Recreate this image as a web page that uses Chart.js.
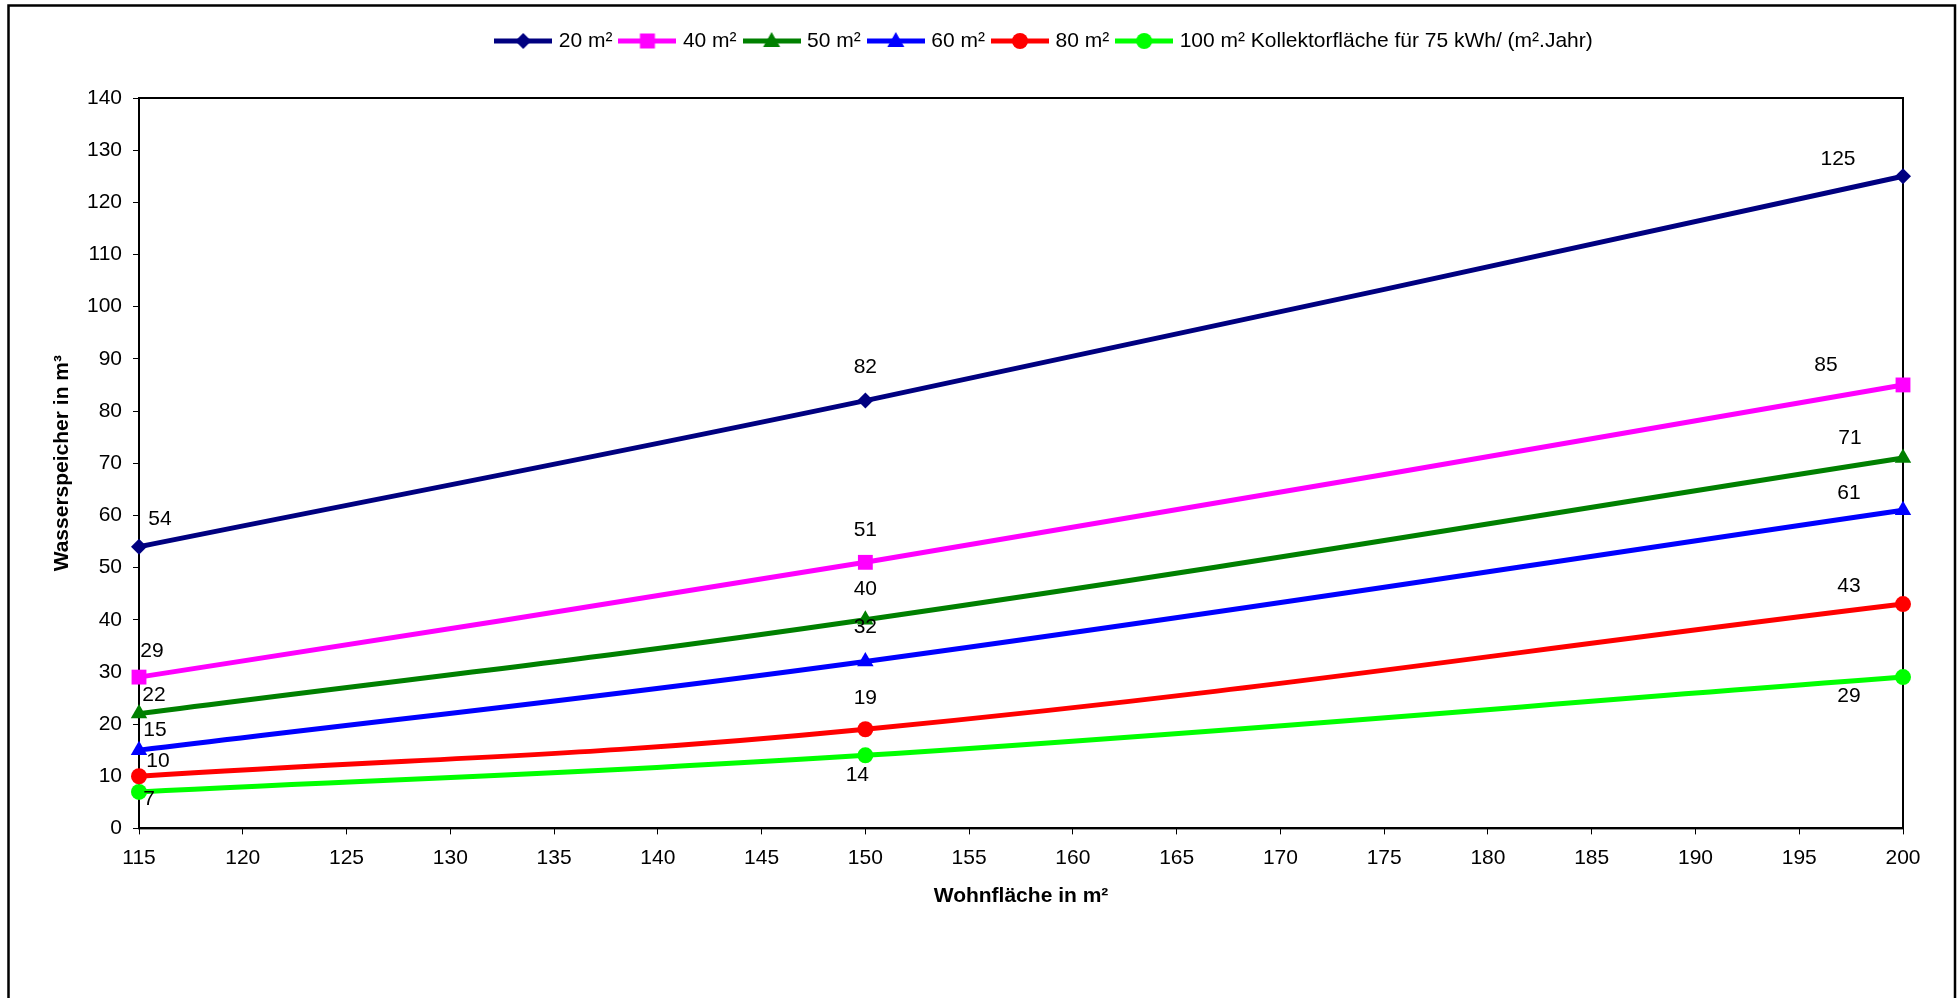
<!DOCTYPE html>
<html>
<head>
<meta charset="utf-8">
<title>Wasserspeicher</title>
<script src="https://cdn.jsdelivr.net/npm/chart.js@4.4.1/dist/chart.umd.min.js"></script>
<style>
  body { margin: 0; background: #fff; }
  canvas { display: block; }
</style>
</head>
<body>
<canvas id="chart-area" width="1959" height="998"></canvas>
<script>
// Werte
var wohnflaeche = [115, 150, 200];
var serienNamen = ['20 m²', '40 m²', '50 m²', '60 m²', '80 m²', '100 m² Kollektorfläche für 75 kWh/ (m².Jahr)'];
var kollektor20 = [54, 82, 125];
var kollektor40 = [29, 51, 85];
var kollektor50 = [22, 40, 71];
var kollektor60 = [15, 32, 61];
var kollektor80 = [10, 19, 43];
var kollektor100 = [7, 14, 29];
var serienWerte = [kollektor20, kollektor40, kollektor50, kollektor60, kollektor80, kollektor100];

// Aussehen
var farben = ['#000080', '#FF00FF', '#008000', '#0000FF', '#FF0000', '#00FF00'];
var punktFormen = ['rectRot', 'rect', 'triangle', 'triangle', 'circle', 'circle'];
var punktGroessen = [8, 10.5, 9.5, 9.5, 8, 8];
// Versatz der Datenbeschriftung (dx, dy) zum Punkt
var labelVersatz = [
    [[21, -27], [0, -33], [-65, -17]],
    [[13, -26], [0, -32], [-77, -20]],
    [[15, -18], [0, -31], [-53, -20]],
    [[16, -20], [0, -34], [-54, -17]],
    [[19, -15], [0, -31], [-54, -18]],
    [[10, 7], [-8, 20], [-54, 19]]
];
var schrift = '"Liberation Sans", Arial, sans-serif';
var groesse = 21;

let makeLegendIcon = function (farbe, form) {
    var c = document.createElement('canvas');
    c.width = 58;
    c.height = 22;
    var g = c.getContext('2d');
    g.strokeStyle = farbe;
    g.fillStyle = farbe;
    g.lineWidth = 5;
    g.beginPath();
    g.moveTo(0, 11);
    g.lineTo(58, 11);
    g.stroke();
    g.beginPath();
    if (form === 'rectRot') {
        g.moveTo(29, 3); g.lineTo(37, 11); g.lineTo(29, 19); g.lineTo(21, 11);
    } else if (form === 'rect') {
        g.rect(21.5, 3.5, 15, 15);
    } else if (form === 'triangle') {
        g.moveTo(29, 2); g.lineTo(37.5, 17); g.lineTo(20.5, 17);
    } else {
        g.arc(29, 11, 8, 0, Math.PI * 2);
    }
    g.closePath();
    g.fill();
    return c;
};

var legendIcons = farben.map((f, i) => makeLegendIcon(f, punktFormen[i]));

var datasets = serienWerte.map(function (werte, i) {
    return {
        label: serienNamen[i],
        data: werte.map((v, j) => ({ x: wohnflaeche[j], y: v })),
        borderColor: farben[i],
        backgroundColor: farben[i],
        borderWidth: 5,
        tension: 0.4,
        pointStyle: punktFormen[i],
        pointRadius: punktGroessen[i],
        pointBorderWidth: 0,
        pointBackgroundColor: farben[i],
        clip: false
    };
});

var rahmen = {
    id: 'rahmen',
    beforeDraw: function (chart) {
        var ctx = chart.ctx;
        ctx.save();
        ctx.fillStyle = '#fff';
        ctx.fillRect(0, 0, chart.width, chart.height);
        ctx.restore();
    },
    beforeDatasetsDraw: function (chart) {
        var a = chart.chartArea;
        var ctx = chart.ctx;
        ctx.save();
        ctx.strokeStyle = '#000';
        ctx.lineWidth = 2;
        ctx.strokeRect(a.left, a.top, a.right - a.left, a.bottom - a.top);
        ctx.restore();
    },
    afterDraw: function (chart) {
        var ctx = chart.ctx;
        ctx.save();
        ctx.strokeStyle = '#000';
        ctx.lineWidth = 2.5;
        ctx.beginPath();
        ctx.moveTo(8.5, chart.height + 5);
        ctx.lineTo(8.5, 5.5);
        ctx.lineTo(1955, 5.5);
        ctx.lineTo(1955, chart.height + 5);
        ctx.stroke();
        ctx.restore();
    }
};

var datenBeschriftung = {
    id: 'datenBeschriftung',
    afterDatasetsDraw: function (chart) {
        var ctx = chart.ctx;
        ctx.save();
        ctx.font = groesse + 'px ' + schrift;
        ctx.fillStyle = '#000';
        ctx.textAlign = 'center';
        ctx.textBaseline = 'middle';
        chart.data.datasets.forEach(function (ds, i) {
            chart.getDatasetMeta(i).data.forEach(function (pt, j) {
                var v = labelVersatz[i][j];
                ctx.fillText(String(ds.data[j].y), pt.x + v[0], pt.y + v[1]);
            });
        });
        ctx.restore();
    }
};

// Legende etwas hoeher machen und nach rechts schieben
var legendeAnpassen = {
    id: 'legendeAnpassen',
    beforeLayout: function (chart) {
        var lg = chart.legend;
        if (lg && !lg._angepasst) {
            var fit = lg.fit;
            lg.fit = function () {
                fit.call(this);
                this.height += 36.5;
            };
            lg._angepasst = true;
        }
    },
    afterLayout: function (chart) {
        chart.legend.left += 69;
        chart.legend.right += 69;
    }
};

var ctx = document.getElementById('chart-area').getContext('2d');
var config = {
    type: 'line',
    data: { datasets: datasets },
    options: {
        responsive: false,
        animation: false,
        layout: { padding: { left: 50, right: 56, top: 20.5, bottom: 89 } },
        plugins: {
            tooltip: { enabled: false },
            legend: {
                position: 'top',
                labels: {
                    usePointStyle: true,
                    pointStyleWidth: 50,
                    boxHeight: groesse,
                    padding: 10,
                    color: '#000',
                    font: { family: schrift, size: groesse },
                    generateLabels: function (chart) {
                        return Chart.defaults.plugins.legend.labels.generateLabels(chart).map(function (l, i) {
                            l.pointStyle = legendIcons[i];
                            l.rotation = 0;
                            return l;
                        });
                    }
                }
            }
        },
        scales: {
            x: {
                type: 'linear',
                min: 115,
                max: 200,
                ticks: { stepSize: 5, color: '#000', padding: 11, font: { family: schrift, size: groesse } },
                grid: { drawOnChartArea: false, drawTicks: true, tickLength: 6, color: '#000' },
                border: { color: '#000', width: 2 },
                title: { display: true, text: 'Wohnfläche in m²', color: '#000', padding: 0, font: { family: schrift, size: groesse, weight: 'bold' } },
                afterFit: function (scale) { scale.height = 908.6 - 828; }
            },
            y: {
                min: 0,
                max: 140,
                ticks: { stepSize: 10, color: '#000', padding: 11, font: { family: schrift, size: groesse } },
                grid: { drawOnChartArea: false, drawTicks: true, tickLength: 6, color: '#000' },
                border: { color: '#000', width: 2 },
                title: { display: true, text: 'Wasserspeicher in m³', color: '#000', padding: 0, font: { family: schrift, size: groesse, weight: 'bold' } },
                afterFit: function (scale) { scale.width = 139 - 50; }
            }
        }
    },
    plugins: [rahmen, datenBeschriftung, legendeAnpassen]
};
window.myLine = new Chart(ctx, config);
</script>
</body>
</html>
